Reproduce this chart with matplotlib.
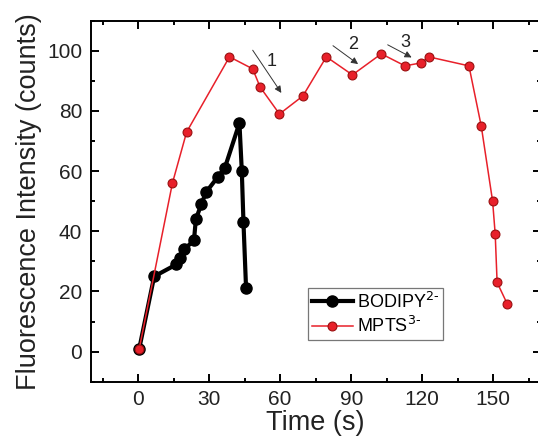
import numpy as np
import matplotlib
matplotlib.use('Agg')
import matplotlib.pyplot as plt
from matplotlib.ticker import MultipleLocator

plt.rcParams['font.family'] = ['Liberation Sans', 'DejaVu Sans']

# BODIPY2- (black, thick)
bod_t = [0.5, 6.8, 16.2, 17.7, 19.5, 23.6, 24.4, 26.7, 28.7, 33.6, 36.6, 42.8, 43.8, 44.5, 45.6]
bod_v = [1, 25, 29, 31, 34, 37, 44, 49, 53, 58, 61, 76, 60, 43, 21]

# MPTS3- (red, thin)
mpts_t = [0.5, 14.5, 20.5, 38.6, 48.4, 51.5, 59.7, 69.6, 79.5, 90.5, 102.7, 112.7, 119.6, 122.7,
          139.7, 144.9, 149.7, 150.8, 151.6, 155.8]
mpts_v = [1, 56, 73, 98, 94, 88, 79, 85, 98, 92, 99, 95, 96, 98, 95, 75, 50, 39, 23, 16]

# arrows: (label, label pos, start, end)
arrows = [("1", (56.2, 96.5), (48.4, 100.2), (60.5, 86.0)),
          ("2", (90.8, 102.2), (82.3, 101.7), (92.9, 95.6)),
          ("3", (112.7, 102.8), (105.4, 102.0), (115.5, 97.8))]

fig = plt.figure(figsize=(5.38, 4.45), dpi=100)
# right spine sits just past the picture edge, as in the source
ax = fig.add_axes([0.1686, 0.1422, 0.8364, 0.8112])

ax.plot(bod_t, bod_v, '-o', color='black', lw=3, ms=8, label='BODIPY$^{2\\text{-}}$', zorder=2)
ax.plot(mpts_t, mpts_v, '-o', color='#e8202a', lw=1.1, ms=6.4, mfc='#e8202a', mec='#9a1010',
        mew=0.8, label='MPTS$^{3\\text{-}}$', zorder=3)

for lab, lpos, p0, p1 in arrows:
    ax.annotate('', xy=p1, xytext=p0,
                arrowprops=dict(arrowstyle='-|>', color='#333333', lw=0.7,
                                mutation_scale=10, shrinkA=0, shrinkB=0))
    ax.text(lpos[0], lpos[1], lab, fontsize=13, ha='center', va='center', color='#222222')

ax.set_xlim(-20, 170)
ax.set_ylim(-10, 110)
ax.xaxis.set_major_locator(MultipleLocator(30))
ax.xaxis.set_minor_locator(MultipleLocator(15))
ax.yaxis.set_major_locator(MultipleLocator(20))
ax.yaxis.set_minor_locator(MultipleLocator(10))
ax.tick_params(which='both', direction='in', top=True, right=True, width=1.4,
               labelsize=15, labelcolor='#222222', pad=6)
ax.tick_params(which='major', length=5.8)
ax.tick_params(which='minor', length=2.9)
for s in ax.spines.values():
    s.set_linewidth(1.4)

ax.set_xlabel('Time (s)', fontsize=19.5, color='#222222', labelpad=1)
ax.set_ylabel('Fluorescence Intensity (counts)', fontsize=19.5, color='#222222', labelpad=4)

leg = ax.legend(loc='upper left', bbox_to_anchor=(0.483, 0.26), fontsize=13, frameon=True,
                fancybox=False, edgecolor='#555555', handlelength=2.3, borderpad=0.2,
                labelspacing=0.25, handletextpad=0.2, borderaxespad=0)
leg.get_frame().set_linewidth(0.9)

fig.savefig('out.png', dpi=100)
